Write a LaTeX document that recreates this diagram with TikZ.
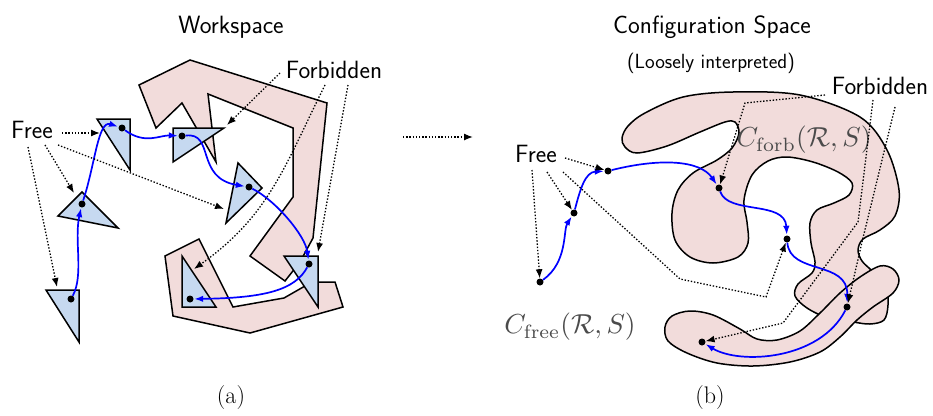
\documentclass[tikz,border=0pt]{standalone}
\usepackage{graphicx}
\usetikzlibrary{arrows.meta}
\definecolor{forbfill}{RGB}{242,220,219}
\definecolor{robfill}{RGB}{198,217,240}
\definecolor{labgray}{RGB}{75,75,75}
\begin{document}
\begin{tikzpicture}[x=1pt,y=-1pt,
  forb/.style={fill=forbfill,draw=black,line width=1.5pt,line join=miter},
  blob/.style={fill=forbfill,draw=black,line width=1.5pt},
  robot/.style={fill=robfill,draw=black,line width=1.5pt,line join=miter},
  pt/.style={circle,fill=black,inner sep=0pt,minimum size=7pt},
  bpath/.style={draw=blue,line width=1.7pt,-{Latex[length=9pt,width=6.5pt]},shorten >=0.5pt},
  dotarrow/.style={draw=black,line width=1.3pt,dash pattern=on 1.4pt off 1.8pt,-{Latex[length=9pt,width=7pt]}},
  lab/.style={font=\fontsize{25}{29}\selectfont\sffamily,inner sep=0pt},
  sublab/.style={font=\fontsize{20.5}{24}\selectfont\sffamily,inner sep=0pt},
  caplab/.style={font=\fontsize{24}{28}\selectfont\rmfamily,inner sep=0pt},
  mathlab/.style={text=labgray,inner sep=0pt}
]
\useasboundingbox (0,0) rectangle (933,415);

% ---------- titles and labels ----------
\node[lab] (wstitle) at (231,27) {Workspace};
\node[lab] (cstitle) at (712,27) {Configuration Space};
\node[sublab] (cssub) at (711,63) {(Loosely interpreted)};
\node[caplab] (capa) at (231,398) {(a)};
\node[caplab] (capb) at (710,398) {(b)};

% ---------- workspace obstacles ----------
\draw[forb] (139,85) -- (190,60) -- (327,103) -- (313,238) -- (300,262) -- (285,281)
  -- (250,256) -- (293,197) -- (293,128) -- (208,94) -- (216,162) -- (182,103)
  -- (156,128) -- cycle;
\draw[forb] (165,256) -- (199,239) -- (233,307) -- (284,298) -- (305,286) -- (318,282)
  -- (335,282) -- (343,307) -- (250,333) -- (173,316) -- cycle;

% ---------- robot placements ----------
\draw[robot] (97,119) -- (130,119) -- (130,170) -- cycle;
\draw[robot] (173,128) -- (224,128) -- (173,162) -- cycle;
\draw[robot] (238,163) -- (262,188) -- (226,223) -- cycle;
\draw[robot] (82,192) -- (118,228) -- (58,216) -- cycle;
\draw[robot] (46,290) -- (79,290) -- (79,342) -- cycle;
\draw[robot] (182,256) -- (216,307) -- (182,307) -- cycle;
\draw[robot] (284,256) -- (318,256) -- (318,307) -- cycle;

\node[pt] (w1) at (122,128) {};
\node[pt] (w2) at (182,136) {};
\node[pt] (w3) at (249,187) {};
\node[pt] (w4) at (82,204) {};
\node[pt] (w5) at (71,299) {};
\node[pt] (w6) at (190,299) {};
\node[pt] (w7) at (309,264) {};

\draw[bpath] (w5) .. controls (84,275) and (74,240) .. (w4);
\draw[bpath] (w4) .. controls (95,165) and (98,120) .. (w1);
\draw[bpath] (w1) .. controls (145,145) and (160,135) .. (w2);
\draw[bpath] (w2) .. controls (215,132) and (195,178) .. (w3);
\draw[bpath] (w3) .. controls (275,200) and (305,235) .. (w7);
\draw[bpath] (w7) .. controls (295,290) and (265,298) .. (w6);

\node[lab] (forbL) at (334,70) {Forbidden};
\node[lab] (freeL) at (32,130) {Free};

\coordinate (fl1) at (62,133);  \coordinate (tl1) at (100,133);
\coordinate (fl2) at (28,147);  \coordinate (tl2) at (57,287);
\coordinate (fl3) at (45,145);  \coordinate (tl3) at (74,193);
\coordinate (fl4) at (58,145);  \coordinate (tl4) at (224,209);
\draw[dotarrow] (fl1) -- (tl1);
\draw[dotarrow] (fl2) -- (tl2);
\draw[dotarrow] (fl3) -- (tl3);
\draw[dotarrow] (fl4) -- (tl4);

\coordinate (gl1) at (280,73);  \coordinate (ul1) at (227,125);
\coordinate (gl2) at (325,85);  \coordinate (ul2) at (194,269);
\coordinate (gl3) at (348,85);  \coordinate (ul3) at (318,252);
\draw[dotarrow] (gl1) -- (ul1);
\draw[dotarrow] (gl2) .. controls (285,165) and (270,215) .. (ul2);
\draw[dotarrow] (gl3) -- (ul3);

% ---------- middle arrow ----------
\coordinate (ma) at (403,137); \coordinate (mb) at (473,137);
\draw[dotarrow] (ma) -- (mb);

% ---------- configuration space obstacles ----------
\draw[blob] plot[smooth cycle, tension=0.55] coordinates {
  (622,138) (628,126) (645,113) (683,97) (733,92) (800,95) (860,117) (887,150)
  (899,190) (895,216) (880,230) (863,239) (858,250) (862,261) (872,271) (886,287)
  (888,305) (884,320) (870,324) (853,322) (828,318) (807,308) (795,296) (798,284)
  (812,273) (815,262) (811,243) (810,223) (817,210) (834,203) (849,195) (852,183)
  (838,172) (813,162) (787,157) (768,161) (752,175) (744,200) (747,222) (748,243)
  (738,257) (713,263) (690,257) (675,240) (672,213) (678,190) (693,173) (717,160)
  (732,148) (739,133) (735,122) (725,122) (700,132) (667,146) (637,153) (625,147)};
\draw[blob] plot[smooth cycle, tension=0.55] coordinates {
  (665,327) (672,316) (690,311) (713,315) (740,329) (757,339) (777,340) (800,331)
  (820,313) (840,293) (860,277) (880,266) (893,269) (899,280) (893,293) (873,307)
  (857,320) (840,337) (820,352) (790,362) (753,366) (717,363) (687,353) (668,341)};

\node[mathlab] (cforb) at (804,140) {\scalebox{2.75}{$C_{\mathrm{forb}}(\mathcal{R},S)$}};
\node[mathlab] (cfree) at (570,327) {\scalebox{2.75}{$C_{\mathrm{free}}(\mathcal{R},S)$}};

\node[pt] (c1) at (540,282) {};
\node[pt] (c2) at (574,213) {};
\node[pt] (c3) at (608,171) {};
\node[pt] (c4) at (719,188) {};
\node[pt] (c5) at (787,239) {};
\node[pt] (c6) at (847,307) {};
\node[pt] (c7) at (702,342) {};

\draw[bpath] (c1) .. controls (568,262) and (563,230) .. (c2);
\draw[bpath] (c2) .. controls (580,190) and (585,172) .. (c3);
\draw[bpath] (c3) .. controls (660,158) and (700,160) .. (c4);
\draw[bpath] (c4) .. controls (728,215) and (785,200) .. (c5);
\draw[bpath] (c5) .. controls (790,275) and (848,260) .. (c6);
\draw[bpath] (c6) .. controls (820,360) and (740,365) .. (c7);

\node[lab] (forbR) at (880,86) {Forbidden};
\node[lab] (freeR) at (536,154) {Free};

\coordinate (fr1) at (565,158);
\coordinate (fr2) at (532,170);
\coordinate (fr3) at (547,172);
\coordinate (fr4) at (563,172);
\coordinate (kr4a) at (680,279); \coordinate (kr4b) at (766,297);
\draw[dotarrow] (fr1) -- (c3);
\draw[dotarrow] (fr2) -- (c1);
\draw[dotarrow] (fr3) -- (c2);
\draw[dotarrow] (fr4) -- (kr4a) -- (kr4b) -- (c5);

\coordinate (gr1) at (825,95);  \coordinate (kr1) at (745,103);
\coordinate (gr2) at (873,100); \coordinate (kr2a) at (858,222); \coordinate (kr2b) at (783,323);
\coordinate (gr3) at (895,107); \coordinate (kr3) at (862,242);
\draw[dotarrow] (gr1) -- (kr1) -- (c4);
\draw[dotarrow] (gr2) -- (kr2a) -- (kr2b) -- (c7);
\draw[dotarrow] (gr3) -- (kr3) -- (c6);
\end{tikzpicture}
\end{document}
